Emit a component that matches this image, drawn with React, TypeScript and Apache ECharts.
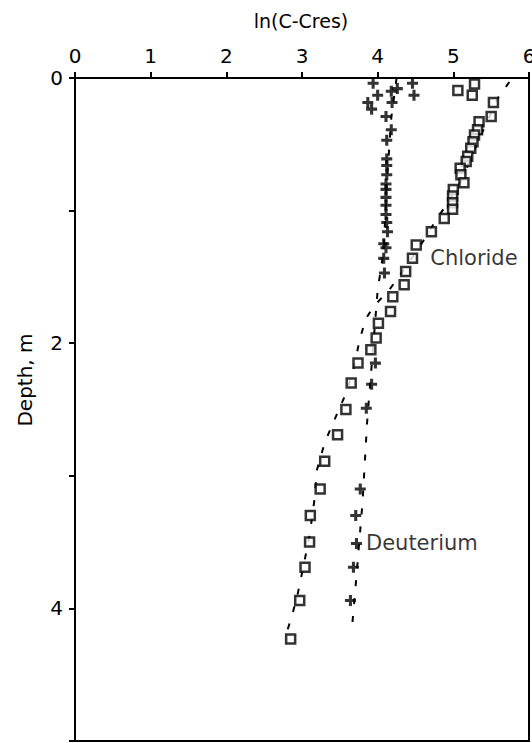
import React, { useEffect, useRef } from "react";
import * as echarts from "echarts";

// ln(C - Cres) values against depth (m)
const xTicks = [0, 1, 2, 3, 4, 5, 6];
const depthTicks = [0, 1, 2, 3, 4, 5];
const depthLabels = ["0", "", "2", "", "4", ""];

const chloride: [number, number][] = [
  [5.06, 0.095], [5.28, 0.045], [5.25, 0.13], [5.53, 0.185], [5.5, 0.29],
  [5.34, 0.33], [5.32, 0.39], [5.28, 0.43], [5.26, 0.48], [5.23, 0.53],
  [5.19, 0.59], [5.17, 0.63], [5.09, 0.68], [5.1, 0.73], [5.14, 0.79],
  [5.0, 0.84], [4.99, 0.89], [4.99, 0.94], [4.99, 0.99], [4.88, 1.06],
  [4.71, 1.16], [4.51, 1.26], [4.46, 1.36], [4.37, 1.46], [4.35, 1.56],
  [4.2, 1.65], [4.17, 1.76], [4.01, 1.85], [3.98, 1.96], [3.91, 2.05],
  [3.74, 2.15], [3.65, 2.3], [3.58, 2.5], [3.47, 2.69], [3.3, 2.89],
  [3.24, 3.1], [3.11, 3.3], [3.1, 3.5], [3.04, 3.69], [2.97, 3.94],
  [2.85, 4.23],
];
const chlorideLabelIndex = 22;

const deuterium: [number, number][] = [
  [3.94, 0.04], [4.18, 0.1], [4.26, 0.08], [4.46, 0.04], [4.48, 0.13],
  [4.0, 0.13], [3.87, 0.185], [3.92, 0.235], [4.19, 0.185], [4.11, 0.29],
  [4.18, 0.39], [4.12, 0.47], [4.12, 0.61], [4.12, 0.66], [4.12, 0.73],
  [4.11, 0.8], [4.11, 0.84], [4.11, 0.9], [4.11, 0.96], [4.11, 1.03],
  [4.12, 1.09], [4.13, 1.16], [4.08, 1.25], [4.11, 1.28], [4.08, 1.36],
  [4.09, 1.47], [3.97, 2.15], [3.92, 2.31], [3.85, 2.49], [3.77, 3.1],
  [3.71, 3.3], [3.72, 3.51], [3.68, 3.69], [3.64, 3.94],
];
const deuteriumLabelIndex = 31;

// model curves
const chlorideFit: [number, number][] = [
  [5.74, 0.03], [5.59, 0.15], [5.35, 0.45], [5.1, 0.78], [4.88, 0.98],
  [4.74, 1.1], [4.58, 1.25], [4.38, 1.42], [4.15, 1.6], [3.95, 1.72],
  [3.84, 1.82], [3.76, 1.98], [3.68, 2.2], [3.58, 2.38], [3.45, 2.55],
  [3.3, 2.75], [3.2, 2.95], [3.16, 3.2], [3.1, 3.45], [3.02, 3.68],
  [2.94, 3.9], [2.87, 4.05], [2.81, 4.16],
];
const deuteriumFit: [number, number][] = [
  [4.25, 0.0], [4.18, 0.3], [4.12, 0.8], [4.08, 1.3], [4.0, 1.6],
  [3.93, 2.1], [3.86, 2.6], [3.8, 3.2], [3.71, 3.82], [3.66, 4.15],
];

const FONT = "DejaVu Sans";
const PLUS = "path://M3.6,0H6.4V3.6H10V6.4H6.4V10H3.6V6.4H0V3.6H3.6Z";

export default function App() {
  const ref = useRef<HTMLDivElement>(null);

  useEffect(() => {
    if (!ref.current) return;
    const chart = echarts.init(ref.current, undefined, { renderer: "svg" });

    const seriesLabel = (text: string, distance: number) => ({
      show: true,
      formatter: text,
      position: "right",
      distance,
      color: "#000",
      fontFamily: FONT,
      fontSize: 21,
    });

    const chlorideData = chloride.map((p, i) =>
      i === chlorideLabelIndex
        ? { value: p, label: seriesLabel("Chloride", 12) }
        : { value: p }
    );
    const deuteriumData = deuterium.map((p, i) =>
      i === deuteriumLabelIndex
        ? { value: p, label: seriesLabel("Deuterium", 4) }
        : { value: p }
    );

    const dashed = { color: "#000", width: 2, type: [6, 12] as number[] };

    chart.setOption({
      animation: false,
      backgroundColor: "#fff",
      grid: {
        left: 75,
        right: 3,
        top: 78,
        bottom: 2,
        show: true,
        borderColor: "#000",
        borderWidth: 2,
        outerBoundsMode: "none",
      },
      xAxis: {
        type: "value",
        position: "top",
        min: xTicks[0],
        max: xTicks[xTicks.length - 1],
        interval: 1,
        axisLine: { show: true, lineStyle: { color: "#000", width: 2 } },
        axisTick: { show: true, inside: false, length: 6, lineStyle: { color: "#000", width: 2 } },
        axisLabel: {
          color: "#000",
          fontFamily: FONT,
          fontSize: 20,
          margin: 12,
          showMaxLabel: true,
          showMinLabel: true,
          hideOverlap: false,
        },
        splitLine: { show: false },
      },
      yAxis: {
        type: "value",
        inverse: true,
        min: depthTicks[0],
        max: depthTicks[depthTicks.length - 1],
        interval: 1,
        axisLine: { show: true, lineStyle: { color: "#000", width: 2 } },
        axisTick: { show: true, inside: false, length: 6, lineStyle: { color: "#000", width: 2 } },
        axisLabel: {
          color: "#000",
          fontFamily: FONT,
          fontSize: 20,
          margin: 12,
          formatter: (v: number) => {
            const i = depthTicks.indexOf(Math.round(v));
            return i >= 0 ? depthLabels[i] : "";
          },
        },
        splitLine: { show: false },
      },
      graphic: [
        {
          type: "text",
          x: 301,
          y: 21,
          style: {
            text: "ln(C-Cres)",
            fontFamily: FONT,
            fontSize: 19,
            fill: "#000",
            textAlign: "center",
            textVerticalAlign: "middle",
          },
        },
        {
          type: "text",
          x: 25,
          y: 380,
          rotation: Math.PI / 2,
          style: {
            text: "Depth, m",
            fontFamily: FONT,
            fontSize: 20,
            fill: "#000",
            textAlign: "center",
            textVerticalAlign: "middle",
          },
        },
      ],
      series: [
        {
          name: "Chloride model",
          type: "line",
          data: chlorideFit,
          showSymbol: false,
          symbol: "none",
          lineStyle: dashed,
          z: 1,
        },
        {
          name: "Deuterium model",
          type: "line",
          data: deuteriumFit,
          showSymbol: false,
          symbol: "none",
          lineStyle: dashed,
          z: 1,
        },
        {
          name: "Chloride",
          type: "scatter",
          data: chlorideData,
          symbol: "rect",
          symbolSize: 9,
          itemStyle: { color: "#fff", borderColor: "#000", borderWidth: 2.5 },
          z: 3,
        },
        {
          name: "Deuterium",
          type: "scatter",
          data: deuteriumData,
          symbol: PLUS,
          symbolSize: 11,
          itemStyle: { color: "#000" },
          z: 4,
        },
      ],
    });

    return () => chart.dispose();
  }, []);

  return (
    <div
      ref={ref}
      style={{ position: "absolute", left: 0, top: 0, width: 532, height: 743 }}
    />
  );
}
